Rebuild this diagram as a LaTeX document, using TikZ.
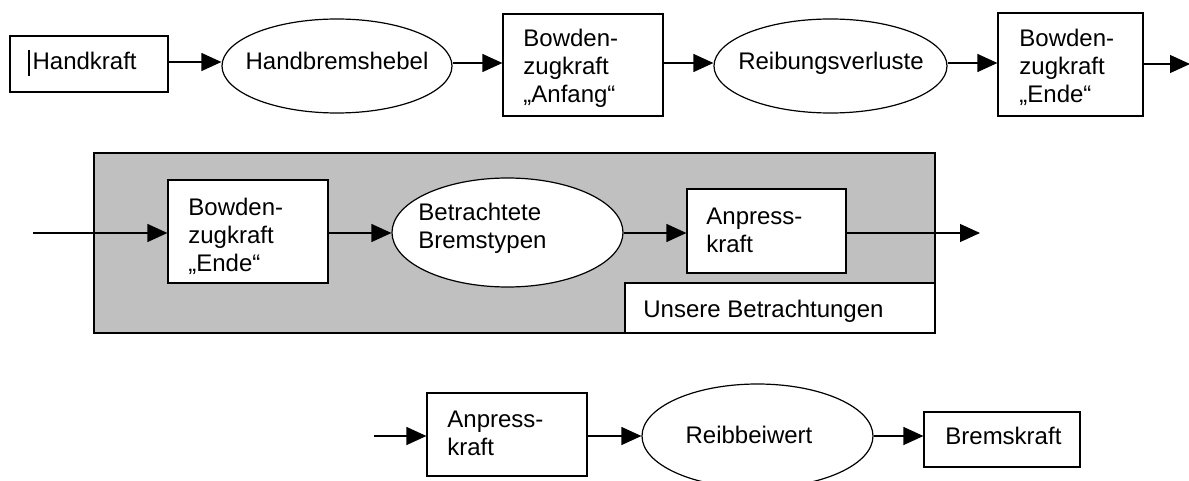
\documentclass[tikz,border=0pt]{standalone}
\usepackage{fontspec}
\setmainfont{Liberation Sans}
\usetikzlibrary{shapes.geometric,arrows.meta}
\definecolor{panelgray}{RGB}{192,192,192}
\begin{document}
\begin{tikzpicture}[x=0.5pt,y=-0.5pt,
  every node/.style={font=\fontsize{12}{14}\selectfont},
  box/.style={draw, line width=0.6pt, fill=white, rectangle, inner sep=0pt},
  oval/.style={draw, line width=0.6pt, fill=white, ellipse, inner sep=0pt},
  txt/.style={anchor=base west, inner sep=0pt, align=left},
  ctxt/.style={anchor=base, inner sep=0pt},
  arr/.style={line width=0.6pt, -{Triangle[length=10pt,width=9pt]}}
]
\useasboundingbox (0,0) rectangle (1189,481);

% ---------- row 1 ----------
\node[box, minimum width=79pt, minimum height=28pt] (hk) at (89,64) {};
\node[oval, minimum width=115pt, minimum height=47pt] (hbh) at (337,66) {};
\node[box, minimum width=80pt, minimum height=51pt] (bza) at (583,65) {};
\node[oval, minimum width=116.5pt, minimum height=47pt] (rv) at (830.5,66) {};
\node[box, minimum width=72.5pt, minimum height=51.5pt] (bze) at (1070.5,64.5) {};
\coordinate (out1) at (1190,64);

\node[txt] (thk) at (28,70) {\rule[-3pt]{0.6pt}{13pt}\hspace{1.5pt}Handkraft};
\node[ctxt] (thbh) at (337,70) {Handbremshebel};
\node[txt] (tbza) at (523,103) {Bowden-\\zugkraft\\„Anfang“};
\node[ctxt] (trv) at (831,70) {Reibungsverluste};
\node[txt] (tbze) at (1019,103) {Bowden-\\zugkraft\\„Ende“};

\draw[arr] (hk.east |- 0,62) -- (hbh.west |- 0,62);
\draw[arr] (hbh.east |- 0,63) -- (bza.west |- 0,63);
\draw[arr] (bza.east |- 0,63) -- (rv.west |- 0,63);
\draw[arr] (rv.east |- 0,63) -- (bze.west |- 0,63);
\draw[arr] (bze.east |- out1) -- (out1);

% ---------- row 2 ----------
\node[draw, line width=0.6pt, fill=panelgray, inner sep=0pt, minimum width=420.5pt, minimum height=90pt] (panel) at (514.5,243) {};
\node[box, minimum width=155pt, minimum height=25pt] (ub) at (780,308) {};
\node[txt] (tub) at (643,317) {Unsere Betrachtungen};

\coordinate (in2) at (33,233);
\node[box, minimum width=80pt, minimum height=51.5pt] (bz2) at (248,231.5) {};
\node[oval, minimum width=115.5pt, minimum height=54.5pt] (bb) at (507.5,232.5) {};
\node[box, minimum width=79.5pt, minimum height=42pt] (ak2) at (766.5,231) {};
\coordinate (out2) at (980,233);

\node[txt] (tbz2) at (188,271) {Bowden-\\zugkraft\\„Ende“};
\node[txt] (tbb) at (418,249) {Betrachtete\\Bremstypen};
\node[txt] (tak2) at (706,252) {Anpress-\\kraft};

\draw[arr] (in2) -- (bz2.west |- in2);
\draw[arr] (bz2.east |- in2) -- (bb.west |- in2);
\draw[arr] (bb.east |- in2) -- (ak2.west |- in2);
\draw[arr] (ak2.east |- out2) -- (out2);

% ---------- row 3 ----------
\coordinate (in3) at (374,436);
\node[box, minimum width=80pt, minimum height=41.5pt] (ak3) at (507,434.5) {};
\node[oval, minimum width=115.5pt, minimum height=52pt] (rb) at (757.5,436) {};
\node[box, minimum width=78pt, minimum height=27.5pt] (bk) at (1002,439.5) {};

\node[txt] (tak3) at (447,455) {Anpress-\\kraft};
\node[ctxt] (trb) at (749,443) {Reibbeiwert};
\node[txt] (tbk) at (945,444) {Bremskraft};

\draw[arr] (in3) -- (ak3.west |- in3);
\draw[arr] (ak3.east |- in3) -- (rb.west |- in3);
\draw[arr] (rb.east |- in3) -- (bk.west |- in3);
\end{tikzpicture}
\end{document}
